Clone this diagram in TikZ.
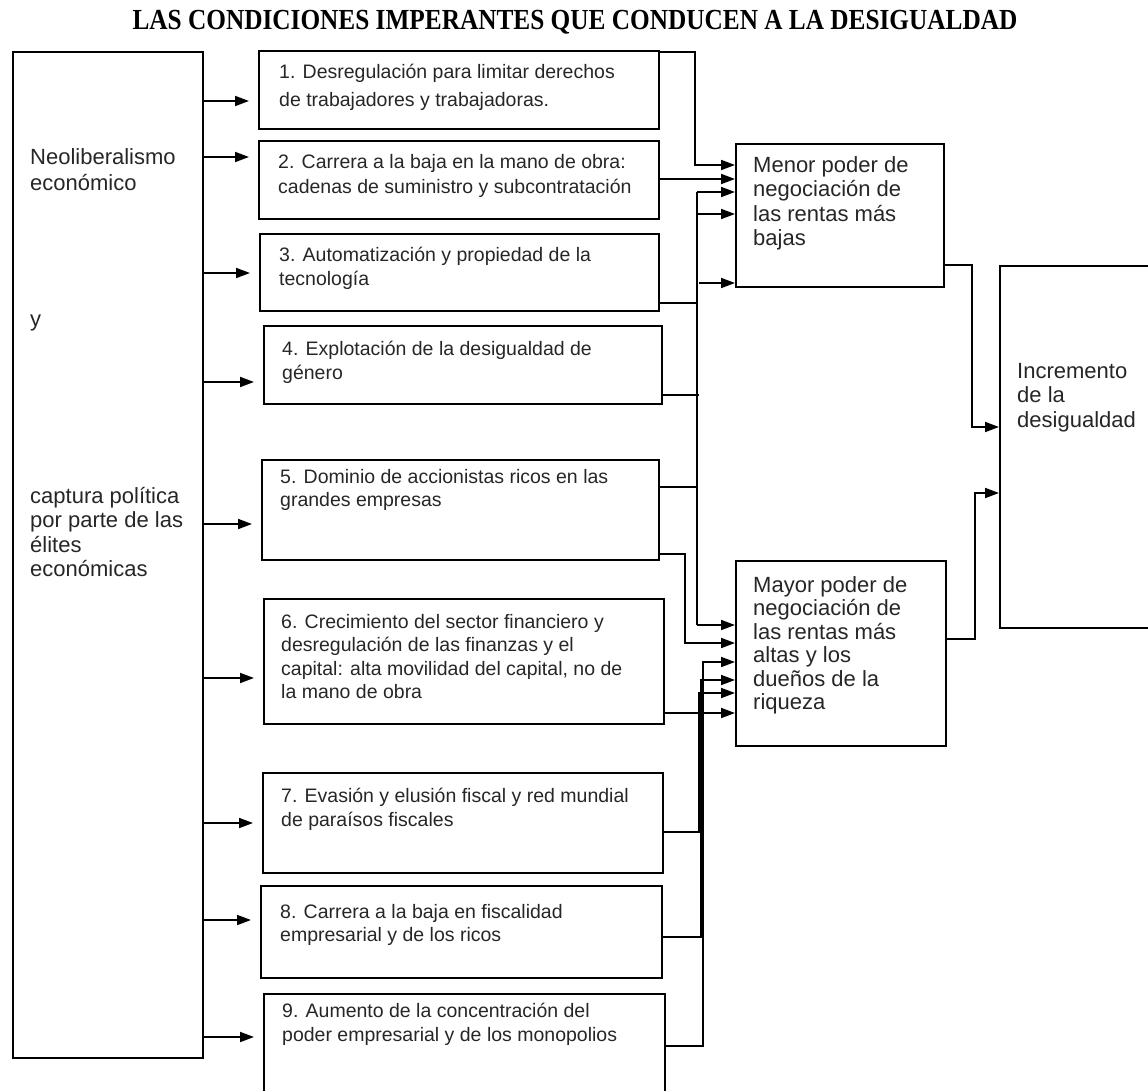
\documentclass[tikz,border=0pt]{standalone}
\usepackage{fontspec}
\setmainfont{Liberation Sans}
\newfontfamily\titlefont{Liberation Serif}
\usetikzlibrary{positioning,calc,arrows.meta}

\begin{document}
\begin{tikzpicture}[x=1pt, y=-1pt, every node/.style={font=\fontsize{19.5pt}{23.5pt}\selectfont, text=black!85}]
    \tikzset{cell/.style={rectangle, draw, line width=1.8pt, anchor=north west, inner sep=0pt}}
    \tikzset{txt/.style={anchor=north west, align=left, inner sep=0pt}}
    \tikzset{big/.style={txt, font=\fontsize{22pt}{24.5pt}\selectfont}}
    \tikzset{line/.style={draw, line width=1.8pt}}
    \tikzset{arr/.style={line, -{Triangle[length=14pt, width=10pt]}}}

    \useasboundingbox (0,0) rectangle (1148,1091);

    % Title
    \node [font=\titlefont\bfseries\fontsize{25.3pt}{28pt}\selectfont, text=black, yscale=1.15] (title) at (575,22) {LAS CONDICIONES IMPERANTES QUE CONDUCEN A LA DESIGUALDAD};

    % Origin
    \node [cell, minimum width=190pt, minimum height=1006pt] (src) at (12,51) {};
    \node [big] (src_a) at (30,148) {Neoliberalismo\\[1.5pt]económico};
    \node [big, text height=15pt] (src_b) at (30,311) {y};
    \node [big] (src_c) at (30,487) {captura política\\por parte de las\\élites\\económicas};

    % Conditions
    \node [cell, minimum width=400pt, minimum height=78pt] (b1) at (258,50) {};
    \node [txt] (b1t) at (279,64) {1. Desregulación para limitar derechos\\[4pt]de trabajadores y trabajadoras.};
    \node [cell, minimum width=400pt, minimum height=78pt] (b2) at (258,140) {};
    \node [txt] (b2t) at (278,154) {2. Carrera a la baja en la mano de obra:\\[1.5pt]cadenas de suministro y subcontratación};
    \node [cell, minimum width=399pt, minimum height=77pt] (b3) at (259,233) {};
    \node [txt] (b3t) at (279,247) {3. Automatización y propiedad de la\\tecnología};
    \node [cell, minimum width=398pt, minimum height=78pt] (b4) at (263,325) {};
    \node [txt] (b4t) at (282,341) {4. Explotación de la desigualdad de\\género};
    \node [cell, minimum width=397pt, minimum height=100pt] (b5) at (261,459) {};
    \node [txt] (b5t) at (280,469) {5. Dominio de accionistas ricos en las\\grandes empresas};
    \node [cell, minimum width=400pt, minimum height=125pt] (b6) at (263,598) {};
    \node [txt] (b6t) at (281,614) {6. Crecimiento del sector financiero y\\desregulación de las finanzas y el\\capital: alta movilidad del capital, no de\\la mano de obra};
    \node [cell, minimum width=400pt, minimum height=100pt] (b7) at (262,772) {};
    \node [txt] (b7t) at (281,788) {7. Evasión y elusión fiscal y red mundial\\de paraísos fiscales};
    \node [cell, minimum width=401pt, minimum height=92pt] (b8) at (260,885) {};
    \node [txt] (b8t) at (280,904) {8. Carrera a la baja en fiscalidad\\empresarial y de los ricos};
    \node [cell, minimum width=401pt, minimum height=130pt] (b9) at (263,993) {};
    \node [txt] (b9t) at (282,1003) {9. Aumento de la concentración del\\poder empresarial y de los monopolios};

    % Effects
    \node [cell, minimum width=208pt, minimum height=143pt] (menor) at (735,143) {};
    \node [big] (menor_t) at (753,156) {Menor poder de\\negociación de\\las rentas más\\bajas};
    \node [cell, minimum width=210pt, minimum height=185pt] (mayor) at (735,560) {};
    \node [big, font=\fontsize{22pt}{23.5pt}\selectfont] (mayor_t) at (753,576) {Mayor poder de\\negociación de\\las rentas más\\altas y los\\dueños de la\\riqueza};
    \node [cell, minimum width=180pt, minimum height=362pt] (incr) at (999,265) {};
    \node [big] (incr_t) at (1017,363) {Incremento\\de la\\desigualdad};

    % Origin to conditions
    \foreach \n/\y in {1/101, 2/157, 3/273, 4/382, 5/524, 6/678, 7/823, 8/920, 9/1037}
        \draw [arr, shorten >=9pt] (src.east |- 0,\y) -- (b\n.west |- 0,\y);

    % Conditions to lower incomes
    \coordinate (bus) at (697,0);
    \draw [arr] ([yshift=-2pt]b1.north east) -| (695,165) -- (menor.west |- 0,165);
    \draw [arr] (b2.east |- 0,179) -- (menor.west |- 0,179);
    \draw [line] (bus |- 0,192) -- (bus |- 0,625);
    \draw [arr] (bus |- 0,192) -- (menor.west |- 0,192);
    \draw [arr] (bus |- 0,214) -- (menor.west |- 0,214);
    \draw [arr] (699,283) -- (menor.west |- 0,283);
    \draw [line] (b3.east |- 0,303) -- (bus |- 0,303);
    \draw [line] (b4.east |- 0,395) -- (699,395);
    \draw [line] (b5.east |- 0,487) -- (bus |- 0,487);

    % Conditions to higher incomes
    \draw [arr] (bus |- 0,625) -- (mayor.west |- 0,625);
    \draw [arr] (b5.east |- 0,554) -| (685,643) -- (mayor.west |- 0,643);
    \draw [arr] (b9.east |- 0,1046) -| (703,662) -- (mayor.west |- 0,662);
    \draw [arr] (b8.east |- 0,937) -| (701,680) -- (mayor.west |- 0,680);
    \draw [arr] (b7.east |- 0,832) -| (699,693) -- (mayor.west |- 0,693);
    \draw [arr] (b6.east |- 0,713) -- (mayor.west |- 0,713);

    % Effects to inequality
    \draw [arr] (menor.east |- 0,265) -| (972,427) -- (incr.west |- 0,427);
    \draw [arr] (mayor.east |- 0,639) -| (975,493) -- (incr.west |- 0,493);
\end{tikzpicture}
\end{document}
